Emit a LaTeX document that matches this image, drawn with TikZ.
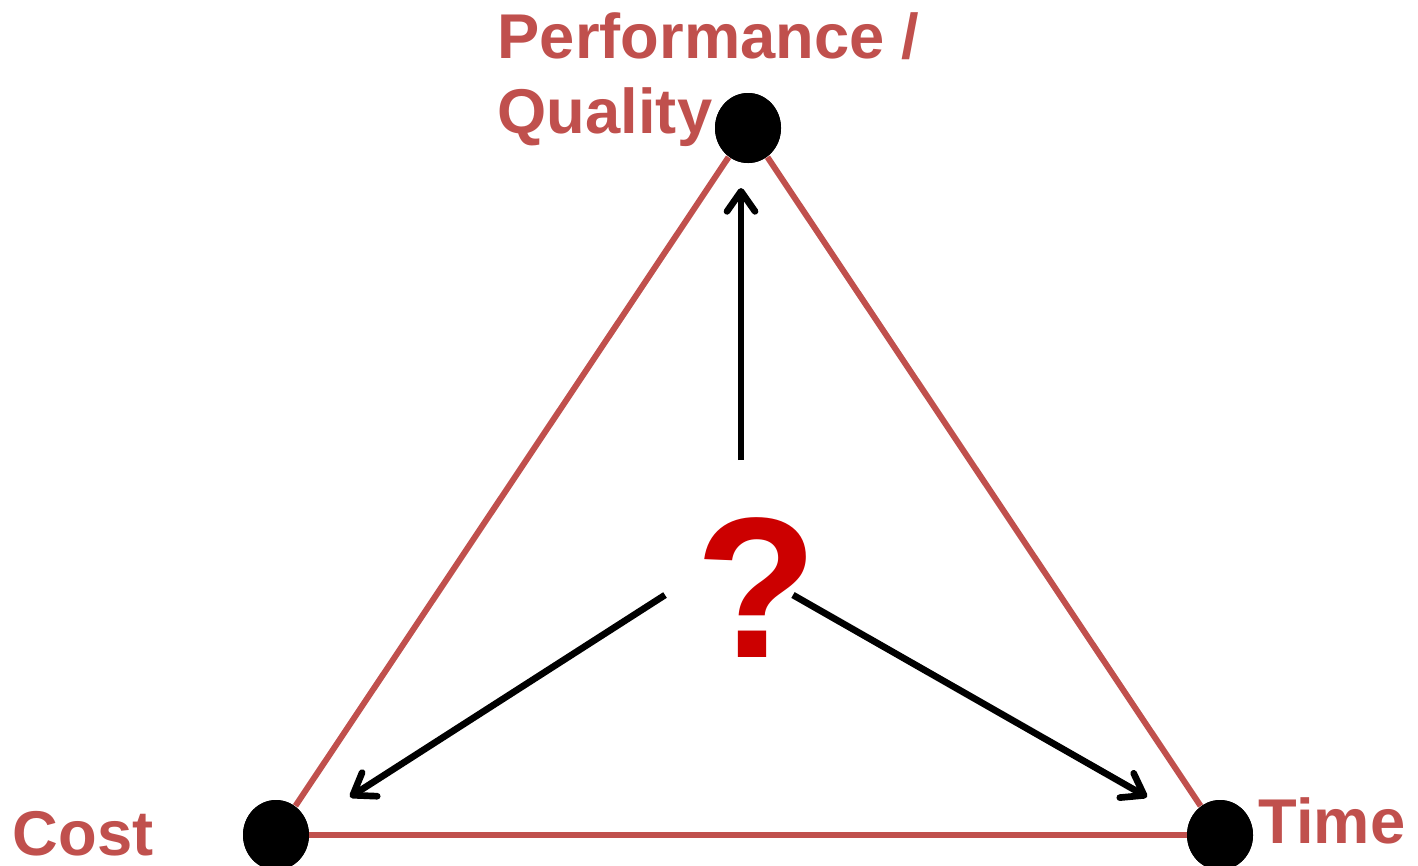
\documentclass[tikz,border=0pt]{standalone}
\usepackage{fontspec}
\setmainfont{Liberation Sans}
\usepackage{xcolor}
\usepackage{tikz}
\usetikzlibrary{arrows.meta,shapes.geometric}

\definecolor{sidered}{HTML}{C0504D}
\definecolor{askred}{HTML}{CC0000}

\begin{document}
\begin{tikzpicture}[x=1cm, y=-1cm,
  vertex/.style={ellipse, fill=black, minimum width=0.66cm, minimum height=0.70cm, inner sep=0pt},
  corner/.style={sidered, font=\fontsize{18}{21.3}\selectfont\bfseries, inner sep=0pt},
  side/.style={sidered, line width=1.7pt},
  pull/.style={black, line width=1.9pt, -{Straight Barb[length=2mm, width=2.8mm, round]}}]

%% ── Frame: 1cm = 100px ───────────────────────────────────────────────────────
\useasboundingbox (0,0) rectangle (14.18,8.65);

%% ── Triangle corners ─────────────────────────────────────────────────────────
\node[vertex] (perf) at (7.48, 1.28) {};
\node[vertex] (cost) at (2.76, 8.35) {};
\node[vertex] (time) at (12.20, 8.35) {};

%% ── Sides ────────────────────────────────────────────────────────────────────
\draw[side] (perf) -- (cost);
\draw[side] (perf) -- (time);
\draw[side] (cost.center) -- (time.center);
\node[vertex] at (perf) {};
\node[vertex] at (cost) {};
\node[vertex] at (time) {};

%% ── Labels ───────────────────────────────────────────────────────────────────
\node[corner, anchor=north west, align=left] (perflab) at (4.97, 0.12)
  {Performance /\\Quality};
\node[corner, anchor=base west] (costlab) at (0.12, 8.55) {Cost};
\node[corner, anchor=base west] (timelab) at (12.58, 8.43) {Time};

%% ── The question ─────────────────────────────────────────────────────────────
\node[askred, font=\fontsize{57}{60}\selectfont\bfseries, inner sep=0pt,
      anchor=base] (ask) at (7.57, 6.57) {?};

\coordinate (upfrom)    at (7.41, 4.60);
\coordinate (upto)      at (7.41, 1.88);
\coordinate (leftfrom)  at (6.65, 5.95);
\coordinate (leftto)    at (3.50, 7.97);
\coordinate (rightfrom) at (7.93, 5.95);
\coordinate (rightto)   at (11.47, 7.97);

\draw[pull] (upfrom) -- (upto);
\draw[pull] (leftfrom) -- (leftto);
\draw[pull] (rightfrom) -- (rightto);

\end{tikzpicture}
\end{document}
